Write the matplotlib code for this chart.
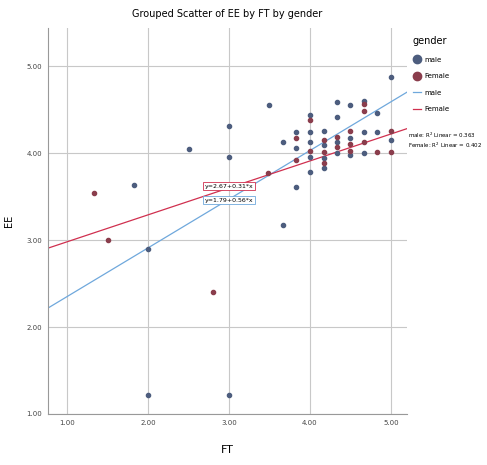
import matplotlib
matplotlib.use('Agg')
import matplotlib.pyplot as plt
from matplotlib.lines import Line2D
import numpy as np

male_x = [5.0, 3.5, 3.0, 3.0, 2.5, 1.83, 2.0, 2.0, 3.0, 3.67, 3.67, 3.83, 3.83, 3.83,
          4.0, 4.0, 4.0, 4.0, 4.0, 4.17, 4.17, 4.17, 4.17, 4.33, 4.33, 4.33, 4.33,
          4.5, 4.5, 4.5, 4.67, 4.67, 4.67, 4.83, 4.83, 5.0]
male_y = [4.87, 4.55, 4.31, 3.95, 4.05, 3.63, 2.9, 1.22, 1.22, 3.17, 4.13, 4.24, 4.06, 3.61,
          4.44, 4.24, 4.13, 3.95, 3.78, 4.26, 4.09, 3.94, 3.83, 4.59, 4.41, 4.13, 4.0,
          4.55, 4.17, 3.98, 4.6, 4.24, 4.0, 4.46, 4.24, 4.15]

female_x = [1.33, 1.5, 2.8, 3.48, 3.83, 3.83, 4.0, 4.0, 4.17, 4.17, 4.17, 4.33, 4.33,
            4.5, 4.5, 4.5, 4.67, 4.67, 4.67, 4.83, 5.0, 5.0]
female_y = [3.54, 3.0, 2.4, 3.77, 4.17, 3.92, 4.38, 4.03, 4.15, 4.01, 3.89, 4.18, 4.07,
            4.26, 4.11, 4.03, 4.57, 4.49, 4.13, 4.01, 4.26, 4.01]

# fit lines as shown in the chart
male_fit = (1.79, 0.56)
female_fit = (2.67, 0.31)
r2_text = ['male: R$^2$ Linear = 0.363', 'Female: R$^2$ Linear = 0.402']

xticks = [1, 2, 3, 4, 5]
yticks = [1, 2, 3, 4, 5]

c_male = '#4d5d7e'
c_female = '#8a3d4c'
l_male = '#6fa8dc'
l_female = '#d0304f'

fig = plt.figure(figsize=(4.87, 4.65), dpi=100)
ax = fig.add_axes([0.0986, 0.1097, 0.7374, 0.8303])

ax.scatter(male_x, male_y, s=9, color=c_male, zorder=3)
ax.scatter(female_x, female_y, s=9, color=c_female, zorder=3)

xl = np.array([0.765, 5.2])
ax.plot(xl, male_fit[0] + male_fit[1] * xl, color=l_male, lw=0.9, zorder=2)
ax.plot(xl, female_fit[0] + female_fit[1] * xl, color=l_female, lw=0.9, zorder=2)

ax.text(3.0, female_fit[0] + female_fit[1] * 3.0 + 0.02, 'y=%.2f+%.2f*x' % female_fit,
        fontsize=4.5, ha='center', va='center', zorder=4,
        bbox=dict(boxstyle='square,pad=0.2', fc='white', ec=l_female, lw=0.6))
ax.text(3.0, female_fit[0] + female_fit[1] * 3.0 - 0.14, 'y=%.2f+%.2f*x' % male_fit,
        fontsize=4.5, ha='center', va='center', zorder=4,
        bbox=dict(boxstyle='square,pad=0.2', fc='white', ec=l_male, lw=0.6))

ax.set_xlim(0.765, 5.2)
ax.set_ylim(1.0, 5.44)
ax.set_xticks(xticks)
ax.set_yticks(yticks)
ax.set_xticklabels(['%.2f' % t for t in xticks], fontsize=5)
ax.set_yticklabels(['%.2f' % t for t in yticks], fontsize=5)
ax.tick_params(length=0, pad=4, colors='#444444')
ax.grid(True, color='#c8c8c8', lw=0.8)
ax.set_axisbelow(True)
for s in ['top', 'right']:
    ax.spines[s].set_visible(False)
for s in ['left', 'bottom']:
    ax.spines[s].set_color('#999999')

ax.set_xlabel('FT', fontsize=8, labelpad=14)
ax.set_ylabel('EE', fontsize=7, labelpad=9)
ax.set_title('Grouped Scatter of EE by FT by gender', fontsize=7, pad=8)

handles = [
    Line2D([], [], ls='', marker='o', ms=6, color=c_male),
    Line2D([], [], ls='', marker='o', ms=6, color=c_female),
    Line2D([], [], color=l_male, lw=0.9),
    Line2D([], [], color=l_female, lw=0.9),
]
leg = fig.legend(handles, ['male', 'Female', 'male', 'Female'], title='gender',
                 loc='upper left', bbox_to_anchor=(0.835, 0.935), frameon=False,
                 fontsize=5, title_fontsize=7, handlelength=1.2, handletextpad=0.4,
                 labelspacing=1.5, alignment='left')

fig.text(0.838, 0.703, r2_text[0], fontsize=4, ha='left')
fig.text(0.838, 0.683, r2_text[1], fontsize=4, ha='left')

fig.savefig('out.png', dpi=100)
